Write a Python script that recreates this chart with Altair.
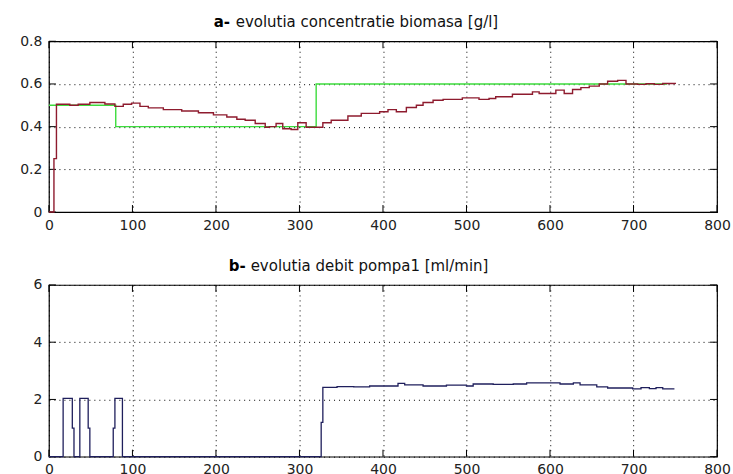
import altair as alt
import pandas as pd

# ---- data ----
BIO_T = [0, 6, 9, 25, 35, 49, 67, 79, 89, 99, 109, 119, 137, 159, 179, 197, 213, 225, 235, 247,
         259, 264, 272, 280, 290, 298, 308, 318, 328, 338, 358, 374, 396, 406, 416, 428, 440, 448,
         460, 472, 495, 515, 527, 535, 555, 579, 587, 607, 617, 627, 637, 647, 659, 669, 681, 691,
         705, 715, 725, 735, 750]
BIO_V = [0.0, 0.25, 0.505, 0.5, 0.505, 0.513, 0.506, 0.495, 0.505, 0.51, 0.495, 0.488, 0.48, 0.473,
         0.465, 0.455, 0.445, 0.435, 0.43, 0.415, 0.397, 0.40, 0.415, 0.39, 0.387, 0.418, 0.397,
         0.397, 0.418, 0.43, 0.45, 0.462, 0.47, 0.48, 0.47, 0.49, 0.5, 0.513, 0.524, 0.528, 0.535,
         0.528, 0.532, 0.54, 0.552, 0.563, 0.555, 0.571, 0.555, 0.574, 0.583, 0.59, 0.6, 0.613,
         0.617, 0.6, 0.598, 0.601, 0.598, 0.602, 0.6]
REF_T = [0, 80, 320, 740]
REF_V = [0.5, 0.4, 0.6, 0.6]
PUMP_T = [0, 17, 28, 30, 37, 47, 49, 77, 79, 88, 326, 328, 345, 365, 384, 418, 426, 448, 476, 500,
          508, 532, 556, 572, 588, 612, 628, 636, 656, 669, 699, 709, 719, 727, 735, 749]
PUMP_V = [0, 2.04, 1, 0, 2.04, 1, 0, 1, 2.04, 0, 1.2, 2.42, 2.45, 2.44, 2.47, 2.56, 2.51, 2.47, 2.5,
          2.47, 2.54, 2.53, 2.54, 2.58, 2.58, 2.54, 2.58, 2.51, 2.44, 2.4, 2.37, 2.41, 2.38, 2.41,
          2.37, 2.37]
X_TICKS = [0, 100, 200, 300, 400, 500, 600, 700, 800]
YA_TICKS = [0, 0.2, 0.4, 0.6, 0.8]
YB_TICKS = [0, 2, 4, 6]
TITLE_A = ["a-", "evolutia concentratie biomasa [g/l]"]
TITLE_B = ["b-", "evolutia debit pompa1 [ml/min]"]

W = 669
HA = 171
HB = 172
FONT = "DejaVu Sans"
TICK = 7

bio = pd.DataFrame({"t": BIO_T, "v": BIO_V})
ref = pd.DataFrame({"t": REF_T, "v": REF_V})
pump = pd.DataFrame({"t": PUMP_T, "v": PUMP_V})
xt = pd.DataFrame({"t": X_TICKS})


def xaxis():
    return alt.Axis(values=X_TICKS, format="d", grid=True, gridDash=[1, 4], gridColor="#000",
                    gridOpacity=1, gridWidth=1, ticks=False, tickSize=0, domain=False,
                    labelFont=FONT, labelFontSize=14, labelColor="#222", labelPadding=6,
                    labelFlush=False, title=None)


def yaxis(vals):
    return alt.Axis(values=vals, format="~g", grid=True, gridDash=[1, 4], gridColor="#000",
                    gridOpacity=1, gridWidth=1, ticks=False, tickSize=0, domain=False,
                    labelFont=FONT, labelFontSize=14, labelColor="#222", labelPadding=7,
                    labelFlush=False, title=None)


def panel(ydom, yvals, h, lines, title):
    xs = alt.Scale(domain=[0, 800], nice=False, zero=False)
    ys = alt.Scale(domain=ydom, nice=False, zero=False)
    layers = []
    yt = pd.DataFrame({"v": yvals})
    # axis / grid carrier
    layers.append(alt.Chart(yt).mark_point(opacity=0).encode(
        x=alt.X("v2:Q", scale=xs, axis=xaxis()),
        y=alt.Y("v:Q", scale=ys, axis=yaxis(yvals)),
    ).transform_calculate(v2="0"))
    # inward ticks on all four sides (MATLAB style)
    layers.append(alt.Chart(xt).mark_rule(color="#000", strokeWidth=1).encode(
        x=alt.X("t:Q", scale=xs), y=alt.value(h), y2=alt.value(h - TICK)))
    layers.append(alt.Chart(xt).mark_rule(color="#000", strokeWidth=1).encode(
        x=alt.X("t:Q", scale=xs), y=alt.value(0), y2=alt.value(TICK)))
    layers.append(alt.Chart(yt).mark_rule(color="#000", strokeWidth=1).encode(
        y=alt.Y("v:Q", scale=ys), x=alt.value(0), x2=alt.value(TICK)))
    layers.append(alt.Chart(yt).mark_rule(color="#000", strokeWidth=1).encode(
        y=alt.Y("v:Q", scale=ys), x=alt.value(W), x2=alt.value(W - TICK)))
    for df, color, width in lines:
        layers.append(alt.Chart(df).mark_line(
            interpolate="step-after", color=color, strokeWidth=width).encode(
            x=alt.X("t:Q", scale=xs), y=alt.Y("v:Q", scale=ys)))
    # title: bold prefix + regular text
    tdf = pd.DataFrame({"a": [title[0]], "b": [title[1]]})
    layers.append(alt.Chart(tdf).mark_text(
        font=FONT, fontSize=15, fontWeight="bold", align="left", baseline="alphabetic",
        color="#000").encode(text="a:N", x=alt.value(title[2]), y=alt.value(-14)))
    layers.append(alt.Chart(tdf).mark_text(
        font=FONT, fontSize=15, align="left", baseline="alphabetic",
        color="#111").encode(text="b:N", x=alt.value(title[2] + 22), y=alt.value(-14)))
    return alt.layer(*layers).properties(width=W, height=h)


top = panel([0, 0.8], YA_TICKS, HA,
            [(ref, "#3ddc3d", 1.4), (bio, "#8e1b2e", 1.4)],
            TITLE_A + [165])
bottom = panel([0, 6], YB_TICKS, HB,
               [(pump, "#1f1f5c", 1.3)],
               TITLE_B + [180])

chart = alt.vconcat(top, bottom, spacing=25).properties(
    padding={"left": 19, "top": 14, "right": 2, "bottom": 0},
    background="white",
).configure_view(stroke="#000", strokeWidth=1.2).configure_concat(spacing=25)

chart.save("out.html", embed_options={"renderer": "svg", "actions": False})
